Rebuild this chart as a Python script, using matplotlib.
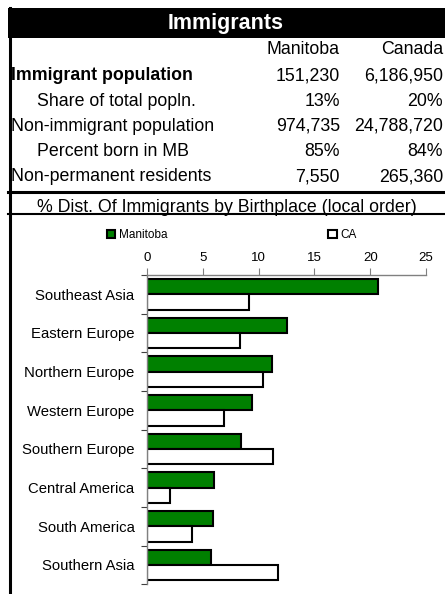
import numpy as np
import matplotlib
matplotlib.use("Agg")
import matplotlib.pyplot as plt
from matplotlib.patches import Rectangle, Patch
from matplotlib.lines import Line2D

plt.rcParams['font.family'] = ['Liberation Sans', 'DejaVu Sans']

# table data
row_labels = ["Immigrant population", "Share of total popln.", "Non-immigrant population",
              "Percent born in MB", "Non-permanent residents"]
row_indent = [False, True, False, True, False]
row_bold = [True, False, False, False, False]
mb_values = ["151,230", "13%", "974,735", "85%", "7,550"]
ca_values = ["6,186,950", "20%", "24,788,720", "84%", "265,360"]

# chart data
regions = ["Southeast Asia", "Eastern Europe", "Northern Europe", "Western Europe",
           "Southern Europe", "Central America", "South America", "Southern Asia"]
mb_pct = [20.7, 12.5, 11.2, 9.4, 8.4, 6.0, 5.9, 5.7]
ca_pct = [9.1, 8.3, 10.4, 6.9, 11.3, 2.1, 4.0, 11.7]

W, H = 445, 594
fig = plt.figure(figsize=(W / 100, H / 100), dpi=100)


def fx(x):
    return x / W


def fy(y):
    return 1 - y / H


# black title bar
fig.add_artist(Rectangle((fx(8), fy(38)), fx(445) - fx(8), fy(8) - fy(38),
                         transform=fig.transFigure, facecolor="black", edgecolor="none"))
fig.text(fx(226), fy(23), "Immigrants", color="white", fontsize=15.5, fontweight="bold",
         ha="center", va="center")

# left border and separators
fig.add_artist(Line2D([fx(9.5), fx(9.5)], [fy(8), fy(594)], transform=fig.transFigure,
                      color="black", lw=2.2))
fig.add_artist(Line2D([fx(8), fx(445)], [fy(191.5), fy(191.5)], transform=fig.transFigure,
                      color="black", lw=2.2))
fig.add_artist(Line2D([fx(8), fx(445)], [fy(214), fy(214)], transform=fig.transFigure,
                      color="black", lw=1.5))

fs = 12.8
fig.text(fx(339), fy(50), "Manitoba", fontsize=fs, ha="right", va="center")
fig.text(fx(443), fy(50), "Canada", fontsize=fs, ha="right", va="center")
for i, lab in enumerate(row_labels):
    y = 76 + i * 25.2
    x = 37 if row_indent[i] else 11
    fig.text(fx(x), fy(y), lab, fontsize=fs, ha="left", va="center",
             fontweight="bold" if row_bold[i] else "normal")
    fig.text(fx(340), fy(y), mb_values[i], fontsize=fs, ha="right", va="center")
    fig.text(fx(443), fy(y), ca_values[i], fontsize=fs, ha="right", va="center")

fig.text(fx(227), fy(207), "% Dist. Of Immigrants by Birthplace (local order)",
         fontsize=fs, ha="center", va="center")

# bar chart
ax = fig.add_axes([fx(147), fy(584.3), fx(426) - fx(147), fy(275) - fy(584.3)])
y = np.arange(len(regions))
h = 0.4
ax.barh(y - h / 2, mb_pct, height=h, color="#008000", edgecolor="black", lw=1.5)
ax.barh(y + h / 2, ca_pct, height=h, color="white", edgecolor="black", lw=1.5)
ax.set_xlim(0, 25)
ax.set_ylim(len(regions) - 0.5, -0.5)
ax.xaxis.tick_top()
ax.set_xticks(np.arange(0, 26, 5))
ax.tick_params(axis="x", direction="out", length=5, color="#808080", labelsize=9.5, pad=3)
ax.set_yticks(np.arange(-0.5, len(regions), 1))
ax.set_yticklabels([])
ax.set_yticks(y, minor=True)
ax.set_yticklabels(regions, minor=True, fontsize=10.7)
ax.tick_params(axis="y", which="major", direction="out", length=4, color="#404040")
ax.tick_params(axis="y", which="minor", length=0, pad=9)
for s in ["right", "bottom"]:
    ax.spines[s].set_visible(False)
for s in ["top", "left"]:
    ax.spines[s].set_color("#808080")
    ax.spines[s].set_linewidth(1.0)

handles = [Patch(facecolor="#008000", edgecolor="black", lw=1.5, label="Manitoba"),
           Patch(facecolor="white", edgecolor="black", lw=1.5, label="CA")]
fig.legend(handles=handles, ncol=2, loc="center left", bbox_to_anchor=(fx(96), fy(235)),
           frameon=False, fontsize=8.5, handlelength=0.75, handleheight=0.75,
           handletextpad=0.3, columnspacing=13.6)

fig.savefig("out.png", dpi=100)
